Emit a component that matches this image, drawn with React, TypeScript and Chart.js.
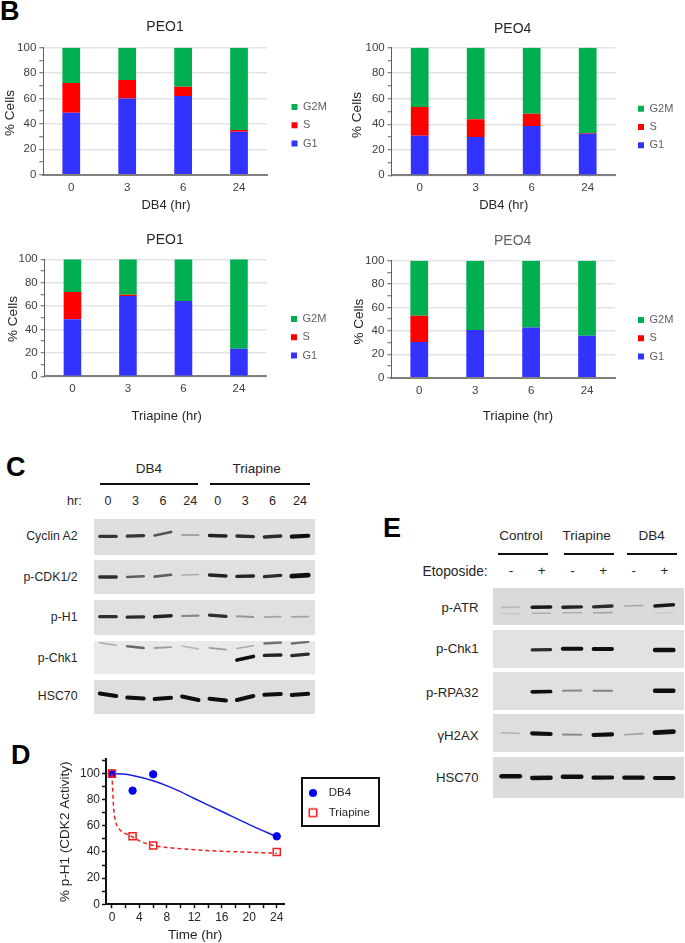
import React, { useEffect, useRef } from "react";
import { Chart, registerables } from "chart.js";

Chart.register(...registerables);

const SANS = "'Liberation Sans', Arial, sans-serif";

// ---------- Panel B: cell-cycle distribution ----------
const HOURS = ["0", "3", "6", "24"];
const PEO1_DB4_G1 = [48.8, 60, 62, 33.9];
const PEO1_DB4_S = [23.4, 14.5, 7.3, 1.3];
const PEO1_DB4_G2M = [27.8, 25.5, 30.7, 64.8];
const PEO4_DB4_G1 = [31, 30, 38.6, 32.6];
const PEO4_DB4_S = [22.5, 14, 9.7, 0.6];
const PEO4_DB4_G2M = [46.5, 56, 51.7, 66.8];
const PEO1_TRI_G1 = [48.7, 68.7, 64.4, 23.6];
const PEO1_TRI_S = [23.3, 1.1, 0, 0];
const PEO1_TRI_G2M = [28, 30.2, 35.6, 76.4];
const PEO4_TRI_G1 = [30.5, 40.7, 43, 35.9];
const PEO4_TRI_S = [22.5, 0, 0, 0];
const PEO4_TRI_G2M = [47, 59.3, 57, 64.1];

// ---------- Panel D: CDK2 activity ----------
const DB4_POINTS = [{ x: 0, y: 100 }, { x: 3, y: 87 }, { x: 6, y: 99.5 }, { x: 24, y: 52 }];
const TRI_POINTS = [{ x: 0, y: 100 }, { x: 3, y: 52 }, { x: 6, y: 45 }, { x: 24, y: 40 }];
const DB4_CURVE = [
  { x: 0, y: 100 }, { x: 1.5, y: 99.7 }, { x: 3, y: 98.6 }, { x: 6, y: 94.5 }, { x: 9, y: 88.5 },
  { x: 12, y: 81 }, { x: 16, y: 71 }, { x: 20, y: 61 }, { x: 24, y: 51.7 },
];
const TRI_CURVE = [
  { x: 0, y: 100 }, { x: 0.1, y: 88 }, { x: 0.25, y: 73 }, { x: 0.5, y: 64 }, { x: 1, y: 58 },
  { x: 2, y: 54 }, { x: 3, y: 51.5 }, { x: 4, y: 48.5 }, { x: 6, y: 45 }, { x: 8, y: 43.5 },
  { x: 12, y: 41.7 }, { x: 16, y: 40.6 }, { x: 20, y: 39.8 }, { x: 24, y: 39 },
];
const D_X_TICKS = [0, 2, 4, 6, 8, 10, 12, 14, 16, 18, 20, 22, 24];
const D_Y_TICKS = [0, 10, 20, 30, 40, 50, 60, 70, 80, 90, 100, 110];

// ---------- Blots: [lane, gel position at left, gel position at right, band strength] ----------
type Band = [number, number, number, number];
const C_LABELS = ["Cyclin A2", "p-CDK1/2", "p-H1", "p-Chk1", "HSC70"];
const C_LANES = ["0", "3", "6", "24", "0", "3", "6", "24"];
const C_CYCLIN: Band[] = [
  [0, 17.3, 17.3, 0.8], [1, 17.2, 16.6, 0.8], [2, 16.5, 13, 0.65], [3, 15.8, 16.2, 0.28],
  [4, 16.5, 17, 0.9], [5, 17, 17.6, 0.85], [6, 18, 17, 0.85], [7, 17.6, 16.8, 1.15],
];
const C_CDK: Band[] = [
  [0, 17, 17, 0.85], [1, 17, 16.2, 0.6], [2, 16.6, 14.8, 0.6], [3, 15, 14.5, 0.2],
  [4, 15, 16, 0.9], [5, 16.4, 16, 0.9], [6, 16.6, 15.4, 0.85], [7, 16.2, 15.2, 1.4],
];
const C_H1: Band[] = [
  [0, 16.7, 16.7, 0.85], [1, 17.2, 16.8, 0.85], [2, 16.8, 15.8, 0.9], [3, 16, 15.6, 0.4],
  [4, 15.2, 16.3, 0.85], [5, 16.2, 17, 0.32], [6, 17.2, 16.6, 0.25], [7, 16.8, 16.6, 0.25],
];
const C_CHK1: Band[] = [
  [0, 1.8, 4.2, 0.22], [1, 5.2, 7, 0.55], [2, 7, 6.2, 0.28], [3, 5, 8, 0.16],
  [4, 6.8, 8.6, 0.28], [5, 7.5, 4.8, 0.22], [6, 2.5, 1.5, 0.5], [7, 2.5, 0.9, 0.5],
  [5, 19, 15.5, 1], [6, 14.4, 14, 0.9], [7, 14.6, 13.2, 0.85],
];
const C_HSC70: Band[] = [
  [0, 13.5, 16, 1.1], [1, 17.5, 18.5, 1.1], [2, 19, 17.8, 1.1], [3, 16.5, 20, 1.1],
  [4, 18.7, 20.5, 1.1], [5, 20, 16, 1.1], [6, 14.8, 14, 1.1], [7, 15, 13.8, 1.1],
];
const C_PANELS = [C_CYCLIN, C_CDK, C_H1, C_CHK1, C_HSC70];

const E_GROUPS = ["Control", "Triapine", "DB4"];
const E_LABELS = ["p-ATR", "p-Chk1", "p-RPA32", "γH2AX", "HSC70"];
const E_SIGNS = ["-", "+", "-", "+", "-", "+"];
const E_ATR: Band[] = [
  [0, 19.5, 19, 0.14], [1, 19.2, 19, 0.95], [2, 19.3, 18.9, 0.9], [3, 18.8, 18, 0.85], [4, 18, 17.5, 0.24], [5, 18, 16.8, 0.95],
  [0, 25.8, 25.6, 0.08], [1, 25.3, 25.3, 0.2], [2, 24.7, 24.7, 0.2], [3, 24.8, 24.6, 0.24], [5, 25.2, 25, 0.08],
];
const E_CHK1: Band[] = [[1, 19.8, 19.6, 0.85], [2, 18.7, 18.7, 1.15], [3, 19, 19, 1.05], [5, 20, 20, 1.25]];
const E_RPA: Band[] = [[1, 19.8, 19.5, 1], [2, 18.8, 18.6, 0.38], [3, 18.7, 18.7, 0.42], [5, 18.7, 18.7, 1.25]];
const E_H2AX: Band[] = [
  [0, 18.8, 19.6, 0.18], [1, 19.4, 20, 1.2], [2, 20.6, 20.8, 0.38], [3, 21, 20.4, 1.2], [4, 20.8, 19.6, 0.24], [5, 18.6, 17.6, 1.45],
];
const E_HSC70: Band[] = [
  [0, 19.3, 19.3, 1.3], [1, 21, 20.8, 1.25], [2, 19.7, 19.7, 1.3], [3, 20.7, 20.5, 1.2], [4, 20.7, 20.7, 1.2], [5, 21, 21, 1.2],
];
const E_PANELS = [E_ATR, E_CHK1, E_RPA, E_H2AX, E_HSC70];

// ---------- Helpers ----------
const placeLegend = {
  id: "placeLegend",
  afterLayout(chart: any, _a: any, opts: any) {
    const lg = chart.legend;
    if (lg && opts.x != null) {
      const pad = lg.options.labels.padding;
      const h = lg.options.labels.font.size;
      const w = lg.width;
      lg.left = opts.x - pad;
      lg.right = lg.left + w;
      lg.top = opts.y - pad - h / 2;
      lg.bottom = lg.top + 200;
    }
    if (chart.titleBlock && opts.titleCx != null) {
      chart.titleBlock.left = 0;
      chart.titleBlock.right = opts.titleCx * 2;
      chart.titleBlock.width = opts.titleCx * 2;
    }
  },
};

const shiftTitles = {
  id: "shiftTitles",
  beforeDraw(chart: any, _a: any, opts: any) {
    const wrap = (s: any, dx: number, dy: number) => {
      if (!s || !s.drawTitle || s.__wrapped) return;
      const orig = s.drawTitle;
      s.drawTitle = function (...args: any[]) {
        const c = this.ctx;
        c.save();
        c.translate(dx, dy);
        orig.apply(this, args);
        c.restore();
      };
      s.__wrapped = true;
    };
    wrap(chart.scales.x, opts.xDx || 0, 0);
    wrap(chart.scales.y, 0, opts.yDy || 0);
  },
};

function useChart(make: (c: HTMLCanvasElement) => any) {
  const ref = useRef<HTMLCanvasElement>(null);
  useEffect(() => {
    const chart = make(ref.current as HTMLCanvasElement);
    return () => chart.destroy();
  }, []);
  return ref;
}

function Txt({ x, y, text, size = 13, anchor = "c", color = "#262626", bold = false }: any) {
  const tx = anchor === "c" ? "-50%" : anchor === "r" ? "-100%" : "0";
  return (
    <div
      style={{
        position: "absolute", left: x, top: y, transform: `translate(${tx},-50%)`, whiteSpace: "nowrap",
        font: `${bold ? "bold " : ""}${size}px ${SANS}`, color, lineHeight: 1.1,
      }}
    >
      {text}
    </div>
  );
}

function Rule({ x1, x2, y }: any) {
  return <div style={{ position: "absolute", left: x1, top: y - 0.75, width: x2 - x1, height: 1.5, background: "#111" }} />;
}

function Stacked(p: any) {
  const W = p.cw;
  const H = Math.round(p.xTitleY + 7.8 - p.cy);
  const ref = useChart((c) =>
    new Chart(c, {
      type: "bar",
      data: {
        labels: HOURS,
        datasets: [
          { label: "G1", data: p.g1, backgroundColor: "#3333FF" },
          { label: "S", data: p.s, backgroundColor: "#FF0000" },
          { label: "G2M", data: p.g2m, backgroundColor: "#00B050" },
        ],
      },
      options: {
        responsive: false,
        animation: false,
        layout: { padding: { left: 0, top: 0, right: p.cx + W - p.r, bottom: 0 } },
        datasets: { bar: { barPercentage: 0.317, categoryPercentage: 1 } },
        plugins: {
          title: {
            display: true,
            text: p.title,
            color: p.titleColor || "#262626",
            font: { family: SANS, size: 14, weight: "normal", lineHeight: 1.2 },
            padding: { top: p.titleY - 8.4 - p.cy, bottom: p.t - p.titleY - 8.4 },
          },
          legend: {
            position: "chartArea",
            align: "start",
            reverse: true,
            labels: { boxWidth: 6, boxHeight: 6, padding: 7.3, color: "#606060", font: { family: SANS, size: 11 } },
          },
          tooltip: { enabled: false },
          placeLegend: { x: p.legendX - p.cx, y: p.legendY - p.cy, titleCx: p.titleCx - p.cx },
          shiftTitles: { xDx: p.xTitleCx - (p.l + p.r) / 2, yDy: p.yTitleCy - (p.t + p.b) / 2 },
        },
        scales: {
          x: {
            stacked: true,
            grid: { display: false, drawTicks: false },
            border: { color: "#808080", width: 2 },
            ticks: { color: "#404040", padding: p.tickY - p.b - 6.9, font: { family: SANS, size: 11.5 } },
            title: {
              display: true, text: p.xTitle, color: "#262626", padding: 0,
              font: { family: SANS, size: 13, lineHeight: 1.2 },
            },
            afterFit: (s: any) => { s.height = H - (p.b - p.cy); },
          },
          y: {
            stacked: true,
            min: 0,
            max: 100,
            grid: {
              color: (c: any) => (c.tick.value % 20 === 0 ? "#E4E4E4" : "rgba(0,0,0,0)"),
              lineWidth: 1.5,
              tickColor: "#606060",
              tickWidth: 1,
              tickLength: 4,
            },
            border: { color: "#606060", width: 1 },
            ticks: {
              stepSize: 10, autoSkip: false, padding: 3, color: "#404040", font: { family: SANS, size: 11.5 },
              callback: (v: any) => (v % 20 === 0 ? String(v) : ""),
            },
            title: {
              display: true, text: "% Cells", color: "#262626",
              padding: { top: p.yTitleX - p.cx - 8.1, bottom: 0 },
              font: { family: SANS, size: 13.5, lineHeight: 1.2 },
            },
            afterFit: (s: any) => { s.width = p.l - p.cx; },
          },
        },
      } as any,
      plugins: [placeLegend, shiftTitles],
    } as any)
  );
  return <canvas ref={ref} width={W} height={H} style={{ position: "absolute", left: p.cx, top: p.cy, display: "block" }} />;
}

function Blot({ bands, x, y, w, h, lane0, laneStep, halfWidth, bg }: any) {
  const ref = useChart((c) =>
    new Chart(c, {
      type: "line",
      data: {
        datasets: bands.map(([lane, yL, yR, s]: Band) => {
          const g = Math.round(212 - 197 * Math.min(s, 1));
          return {
            data: [{ x: lane - halfWidth, y: yL }, { x: lane + halfWidth, y: yR }],
            borderColor: `rgb(${g},${g},${g})`,
            borderWidth: 1 + 2.7 * s,
            borderCapStyle: "round",
            pointRadius: 0,
          };
        }),
      },
      options: {
        responsive: false,
        animation: false,
        layout: { padding: 0 },
        plugins: { legend: { display: false }, tooltip: { enabled: false } },
        scales: {
          x: { type: "linear", display: false, min: (x - lane0) / laneStep, max: (x + w - lane0) / laneStep },
          y: { type: "linear", display: false, min: 0, max: h, reverse: true },
        },
      } as any,
    } as any)
  );
  return (
    <div style={{ position: "absolute", left: x, top: y, width: w, height: h, background: bg, overflow: "hidden" }}>
      <canvas ref={ref} width={w} height={h} style={{ display: "block", filter: "blur(0.75px)" }} />
    </div>
  );
}

function legendMarker(kind: string) {
  const c = document.createElement("canvas");
  c.width = 12;
  c.height = 12;
  const g = c.getContext("2d") as CanvasRenderingContext2D;
  if (kind === "circle") {
    g.fillStyle = "#0000F0";
    g.beginPath();
    g.arc(6, 6, 4, 0, Math.PI * 2);
    g.fill();
  } else {
    g.strokeStyle = "#F02020";
    g.lineWidth = 1.5;
    g.strokeRect(2.25, 2.25, 7.5, 7.5);
  }
  return c;
}

function Kinetics() {
  const cx = 40, cy = 745, W = 360, H = 198;
  const l = 106, r = 284.3, t = 759.3, b = 902.7;
  const ref = useChart((c) =>
    new Chart(c, {
      type: "scatter",
      data: {
        datasets: [
          {
            label: "DB4", data: DB4_POINTS, pointStyle: "circle", pointRadius: 3.7,
            backgroundColor: "#0000F0", borderColor: "#0000F0", borderWidth: 1, showLine: false, order: 3,
          },
          {
            label: "Triapine", data: TRI_POINTS, pointStyle: "rect", pointRadius: 5,
            backgroundColor: "rgba(0,0,0,0)", borderColor: "#F02020", borderWidth: 1.5, showLine: false, order: 1,
          },
          {
            data: DB4_CURVE, showLine: true, pointRadius: 0, borderColor: "#1A1AE6", borderWidth: 1.5,
            cubicInterpolationMode: "monotone", order: 4,
          },
          {
            data: TRI_CURVE, showLine: true, pointRadius: 0, borderColor: "#F02020", borderWidth: 1.5,
            borderDash: [4, 3], cubicInterpolationMode: "monotone", order: 2,
          },
        ],
      },
      options: {
        responsive: false,
        animation: false,
        layout: { padding: { left: 0, top: t - cy, right: cx + W - r, bottom: 0 } },
        plugins: {
          legend: {
            position: "chartArea",
            align: "start",
            labels: {
              usePointStyle: true, pointStyleWidth: 20, boxHeight: 6, padding: 8.2, color: "#262626",
              font: { family: SANS, size: 11.5 },
              generateLabels: (ch: any) =>
                (Chart.defaults as any).plugins.legend.labels
                  .generateLabels(ch)
                  .filter((i: any) => !!i.text)
                  .sort((a: any, b: any) => a.datasetIndex - b.datasetIndex)
                  .map((i: any) => ({ ...i, pointStyle: legendMarker(i.datasetIndex === 0 ? "circle" : "rect") })),
            },
          },
          tooltip: { enabled: false },
          placeLegend: { x: 303 - cx, y: 793 - cy },
        },
        scales: {
          x: {
            type: "linear", min: -0.87, max: 25.1,
            grid: { drawOnChartArea: false, tickColor: "#111", tickWidth: 1.5, tickLength: 4 },
            border: { color: "#111", width: 2 },
            afterBuildTicks: (s: any) => { s.ticks = D_X_TICKS.map((value) => ({ value })); },
            ticks: {
              autoSkip: false, maxRotation: 0, padding: 2, color: "#262626", font: { family: SANS, size: 12 },
              callback: (v: any) => (v % 4 === 0 ? String(v) : ""),
            },
            title: { display: true, text: "Time (hr)", color: "#262626", padding: 0, font: { family: SANS, size: 13.5, lineHeight: 1.2 } },
            afterFit: (s: any) => { s.height = 939.5 + 2 - b; },
          },
          y: {
            type: "linear", min: 0, max: 111,
            grid: { drawOnChartArea: false, tickColor: "#111", tickWidth: 1.5, tickLength: 4 },
            border: { color: "#111", width: 2 },
            afterBuildTicks: (s: any) => { s.ticks = D_Y_TICKS.map((value) => ({ value })); },
            ticks: {
              autoSkip: false, padding: 2, color: "#262626", font: { family: SANS, size: 12 },
              callback: (v: any) => (v % 20 === 0 ? String(v) : ""),
            },
            title: {
              display: true, text: "% p-H1 (CDK2 Activity)", color: "#262626",
              padding: { top: 65.7 - cx - 8.1, bottom: 0 }, font: { family: SANS, size: 13.5, lineHeight: 1.2 },
            },
            afterFit: (s: any) => { s.width = l - cx; },
          },
        },
      } as any,
      plugins: [placeLegend],
    } as any)
  );
  return <canvas ref={ref} width={W} height={H} style={{ position: "absolute", left: cx, top: cy, display: "block" }} />;
}

// ---------- Layout ----------
const C_ROWS = [[519, 36, 537], [560, 34, 578], [600, 35, 618], [641, 33, 659], [680, 34, 697]];
const C_BG = ["#DFDFDF", "#E0E0E0", "#E0E0E0", "#E9E9E9", "#DEDEDE"];
const E_ROWS = [[588, 37, 608], [630, 38, 649], [672, 38, 693], [714, 38, 736], [757, 41, 778]];
const E_BG = ["#DADADA", "#E2E2E2", "#E0E0E0", "#DEDEDE", "#DCDCDC"];

export default function App() {
  return (
    <div
      style={{
        position: "absolute", left: 0, top: 0, width: 685, height: 943, background: "#fff",
        overflow: "hidden", filter: "blur(0.3px)",
      }}
    >
      <Txt x={0} y={12} text="B" size={27} bold anchor="l" color="#000" />
      <Txt x={6} y={468} text="C" size={27} bold anchor="l" color="#000" />
      <Txt x={11} y={756} text="D" size={27} bold anchor="l" color="#000" />
      <Txt x={383} y={529} text="E" size={27} bold anchor="l" color="#000" />

      <Stacked cx={0} cy={0} cw={330} l={43.3} r={267} t={47.7} b={174.7} title="PEO1" titleCx={165} titleY={27} xTitle="DB4 (hr)"
        xTitleCx={166} xTitleY={205} tickY={188} yTitleX={10.5} yTitleCy={113} legendX={291.5} legendY={107}
        g1={PEO1_DB4_G1} s={PEO1_DB4_S} g2m={PEO1_DB4_G2M} />
      <Stacked cx={345} cy={0} cw={336} l={391.7} r={615.7} t={47.7} b={175.3} title="PEO4" titleCx={512.7} titleY={29} xTitle="DB4 (hr)"
        xTitleCx={503.7} xTitleY={205} tickY={188} yTitleX={357.7} yTitleCy={115} legendX={638} legendY={108.7}
        g1={PEO4_DB4_G1} s={PEO4_DB4_S} g2m={PEO4_DB4_G2M} />
      <Stacked cx={0} cy={225} cw={330} l={44.7} r={266.7} t={259.3} b={376.3} title="PEO1" titleCx={165} titleY={240} xTitle="Triapine (hr)"
        xTitleCx={166.7} xTitleY={415.7} tickY={389} yTitleX={13} yTitleCy={319} legendX={291} legendY={319}
        g1={PEO1_TRI_G1} s={PEO1_TRI_S} g2m={PEO1_TRI_G2M} />
      <Stacked cx={345} cy={225} cw={336} l={391.3} r={615} t={260.7} b={377.7} title="PEO4" titleCx={512.7} titleColor="#606060" titleY={240.7} xTitle="Triapine (hr)"
        xTitleCx={518} xTitleY={415.7} tickY={390.7} yTitleX={359.3} yTitleCy={321.7} legendX={638} legendY={320}
        g1={PEO4_TRI_G1} s={PEO4_TRI_S} g2m={PEO4_TRI_G2M} />

      {/* Panel C */}
      <Txt x={149} y={469} text="DB4" size={13.5} />
      <Txt x={256.7} y={469} text="Triapine" size={13.5} />
      <Rule x1={100} x2={198} y={484} />
      <Rule x1={210} x2={310} y={484} />
      <Txt x={81.7} y={502} text="hr:" size={12.5} anchor="r" />
      {C_LANES.map((t, i) => (
        <Txt key={i} x={108 + 27.43 * i} y={502} text={t} size={12.5} />
      ))}
      {C_PANELS.map((bands, i) => (
        <React.Fragment key={i}>
          <Blot bands={bands} x={94} y={C_ROWS[i][0]} w={221} h={C_ROWS[i][1]} lane0={108} laneStep={27.43} halfWidth={0.3} bg={C_BG[i]} />
          <Txt x={77.5} y={C_ROWS[i][2]} text={C_LABELS[i]} size={12.3} anchor="r" />
        </React.Fragment>
      ))}

      {/* Panel D */}
      <div style={{ position: "absolute", left: 301, top: 777, width: 79, height: 50, boxSizing: "border-box", border: "2px solid #111" }} />
      <Kinetics />

      {/* Panel E */}
      {E_GROUPS.map((t, i) => (
        <Txt key={i} x={[521, 586.7, 651.7][i]} y={535.7} text={t} size={13.5} />
      ))}
      <Rule x1={497.7} x2={547.7} y={554} />
      <Rule x1={564} x2={614} y={554} />
      <Rule x1={626.7} x2={676.7} y={554} />
      <Txt x={487.7} y={571.5} text="Etoposide:" size={13.8} anchor="r" />
      {E_SIGNS.map((t, i) => (
        <Txt key={i} x={511 + 30.7 * i} y={571} text={t} size={13.5} />
      ))}
      {E_PANELS.map((bands, i) => (
        <React.Fragment key={i}>
          <Blot bands={bands} x={493} y={E_ROWS[i][0]} w={191} h={E_ROWS[i][1]} lane0={510.7} laneStep={30.7} halfWidth={0.3} bg={E_BG[i]} />
          <Txt x={478.5} y={E_ROWS[i][2]} text={E_LABELS[i]} size={13.2} anchor="r" />
        </React.Fragment>
      ))}
    </div>
  );
}
